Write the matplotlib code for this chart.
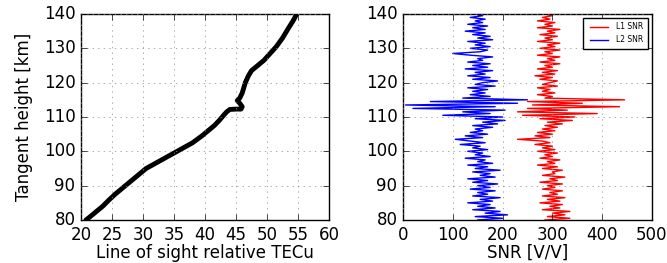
import numpy as np
import matplotlib
matplotlib.use("Agg")
import matplotlib.pyplot as plt

# left panel: line of sight relative TEC vs tangent height
tec = [20.8, 21.5, 22.5, 23.5, 24.5, 25.5, 26.5, 27.5, 28.5, 29.5, 30.5, 31.5, 32.5,
       33.5, 35.0, 36.5, 38.0, 39.5, 40.5, 41.5, 42.3, 43.0, 43.5, 44.0, 45.0, 45.8,
       46.0, 45.6, 45.2, 45.6, 46.0, 46.5, 47.0, 47.5, 48.5, 49.5, 50.5, 51.5, 52.5,
       53.5, 54.2, 54.8]
tec_height = [80, 81, 82.5, 84, 85.8, 87.5, 89, 90.5, 92, 93.5, 95, 96, 97,
              98, 99.5, 101, 102.5, 104.5, 106, 107.5, 109, 110.5, 111.5, 112.2, 112.3, 112.3,
              113, 114, 114.8, 115.5, 117, 120, 122, 123.5, 125, 126.5, 128.5, 130.5, 133,
              136, 138, 140]

# right panel: SNR profiles, sampled every 0.5 km from 80 km
l1_snr = [285, 335, 290, 325, 300, 335, 280, 315, 295, 320,
          275, 315, 290, 325, 280, 310, 295, 320, 280, 305,
          290, 320, 275, 310, 295, 325, 280, 305, 300, 320,
          280, 310, 270, 305, 290, 315, 275, 300, 285, 310,
          270, 305, 280, 300, 265, 295, 280, 230, 295, 265,
          300, 270, 305, 280, 310, 285, 320, 290, 340, 275,
          345, 240, 390, 230, 330, 250, 435, 260, 360, 250,
          445, 285, 300, 270, 305, 280, 295, 270, 310, 280,
          295, 310, 275, 300, 265, 305, 280, 310, 270, 300,
          285, 315, 275, 305, 290, 315, 270, 300, 285, 315,
          275, 305, 290, 315, 270, 300, 285, 310, 275, 305,
          290, 315, 270, 300, 285, 305, 270, 295, 280, 300,
          285]
l2_snr = [150, 200, 145, 210, 165, 195, 140, 185, 150, 175,
          130, 180, 155, 195, 140, 170, 150, 185, 135, 175,
          150, 190, 140, 170, 130, 185, 155, 175, 140, 195,
          145, 170, 130, 180, 150, 165, 125, 175, 145, 160,
          130, 170, 140, 155, 115, 165, 135, 105, 160, 125,
          170, 135, 160, 145, 180, 140, 190, 160, 205, 145,
          200, 80, 175, 120, 205, 20, 185, 5, 230, 55,
          250, 120, 175, 135, 165, 140, 170, 130, 185, 145,
          160, 190, 140, 175, 130, 165, 145, 180, 125, 170,
          140, 175, 130, 160, 150, 180, 135, 100, 155, 170,
          135, 175, 145, 165, 130, 180, 150, 175, 140, 165,
          125, 165, 140, 170, 130, 160, 145, 165, 135, 160,
          145]
snr_height = 80 + 0.5 * np.arange(len(l1_snr))

plt.style.use('classic')
matplotlib.rcParams.update({'font.size': 12})

fig = plt.figure(figsize=(6.67, 2.63), dpi=100)
fig.patch.set_facecolor('white')

ax1 = fig.add_axes([0.1214, 0.1635, 0.3719, 0.7833])
ax1.plot(tec, tec_height, 'k', linewidth=3.5, solid_capstyle='round', solid_joinstyle='round')
ax1.set_xlim(20, 60)
ax1.set_ylim(80, 140)
ax1.set_xticks(range(20, 61, 5))
ax1.set_yticks(range(80, 141, 10))
ax1.grid(True, color='#888888', linestyle=':')
ax1.set_xlabel('Line of sight relative TECu', labelpad=0)
ax1.set_ylabel('Tangent height [km]', labelpad=8)

ax2 = fig.add_axes([0.6042, 0.1635, 0.3733, 0.7833])
ax2.plot(l1_snr, snr_height, 'r', linewidth=1, label='L1 SNR')
ax2.plot(l2_snr, snr_height, 'b', linewidth=1, label='L2 SNR')
ax2.set_xlim(0, 500)
ax2.set_ylim(80, 140)
ax2.set_xticks(range(0, 501, 100))
ax2.set_yticks(range(80, 141, 10))
ax2.grid(True, color='#888888', linestyle=':')
ax2.set_xlabel('SNR [V/V]', labelpad=0)
ax2.legend(loc='upper right', fontsize=5.5, handlelength=3, borderpad=0.6)

fig.savefig('out.png', dpi=100, facecolor='white')
